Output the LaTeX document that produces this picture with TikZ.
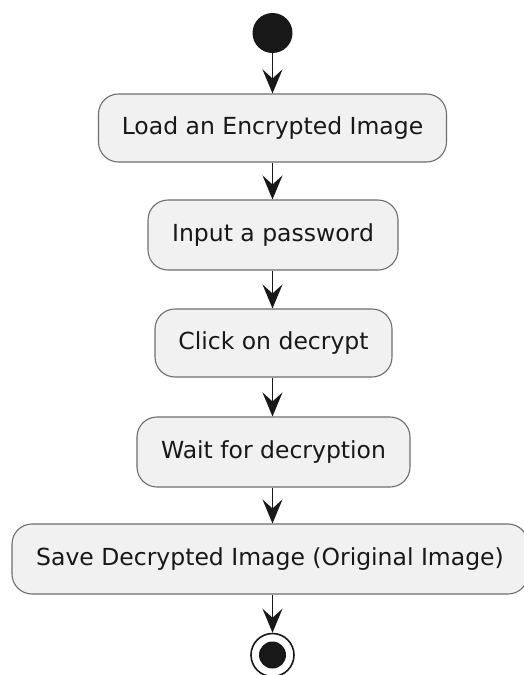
\documentclass[tikz,border=0pt]{standalone}
\usepackage{fontspec}
\setmainfont{DejaVu Sans}
\usetikzlibrary{arrows.meta}
\definecolor{boxfill}{HTML}{F1F1F1}
\definecolor{boxline}{HTML}{6E6E6E}
\definecolor{ink}{HTML}{181818}
\tikzset{
  act/.style={draw=boxline, fill=boxfill, line width=1.1pt, rounded corners=20pt,
    inner sep=0pt, align=center, text=ink,
    font=\fontsize{23.5}{28}\selectfont},
  flow/.style={draw=ink, line width=1.6pt,
    -{Stealth[length=24pt,width=20pt,inset=9pt]}},
}
\begin{document}
\begin{tikzpicture}[x=1pt,y=-1pt]
\useasboundingbox (0,0) rectangle (523,675);
\fill[white] (0,0) rectangle (523,675);
\node[circle, fill=ink, minimum size=40pt, inner sep=0pt] (start) at (272.5,33) {};
\node[act, minimum width=348pt, minimum height=68pt] (a1) at (272.5,128) {Load an Encrypted Image};
\node[act, minimum width=250pt, minimum height=70pt] (a2) at (273,235) {Input a password};
\node[act, minimum width=237pt, minimum height=68pt] (a3) at (273.5,343) {Click on decrypt};
\node[act, minimum width=273pt, minimum height=70pt] (a4) at (273.5,452) {Wait for decryption};
\node[act, minimum width=516pt, minimum height=70pt] (a5) at (270,559) {Save Decrypted Image (Original Image)};
\node[circle, draw=ink, line width=1.6pt, fill=white, minimum size=43pt, inner sep=0pt] (stop) at (272.5,655) {};
\node[circle, fill=ink, minimum size=27pt, inner sep=0pt] (stopin) at (stop.center) {};
\draw[flow] (start) -- (a1);
\draw[flow] (a1.south -| start) -- (a2.north -| start);
\draw[flow] (a2.south -| start) -- (a3.north -| start);
\draw[flow] (a3.south -| start) -- (a4.north -| start);
\draw[flow] (a4.south -| start) -- (a5.north -| start);
\draw[flow] (a5.south -| start) -- (stop);
\end{tikzpicture}
\end{document}
